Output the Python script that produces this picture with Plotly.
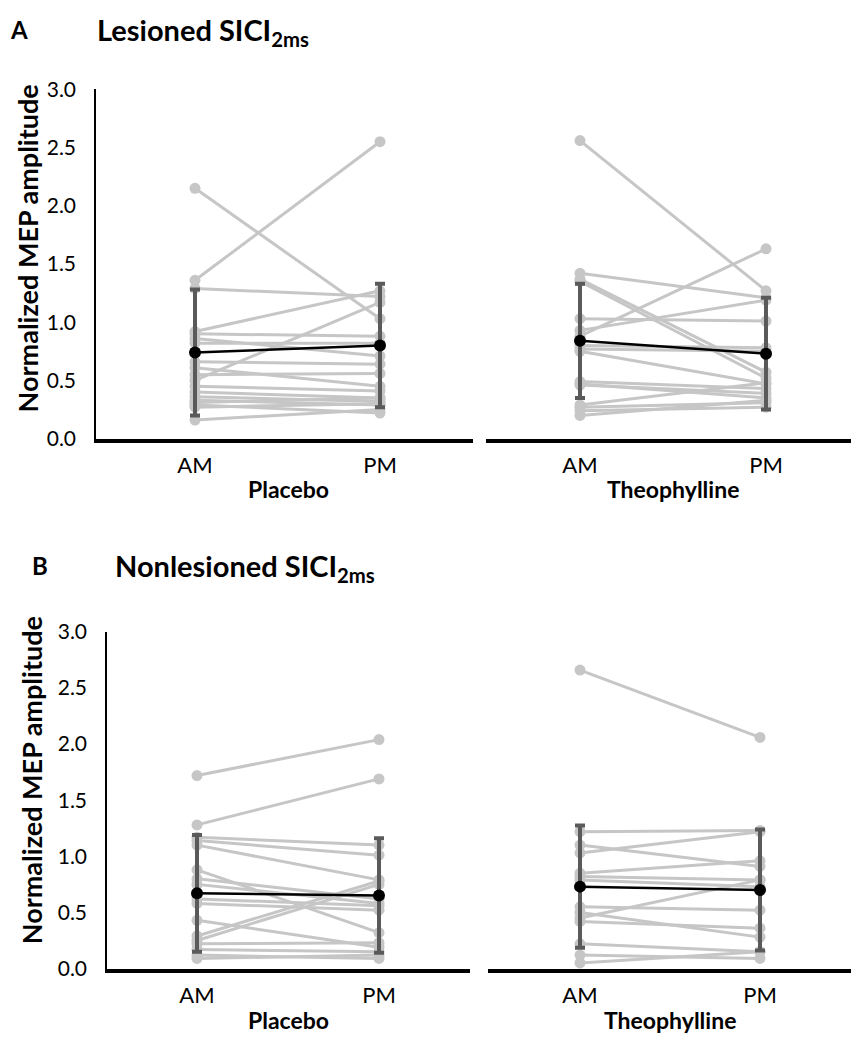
import plotly.graph_objects as go

# target picture size and the page's default 8px body margin
W, H = 859, 1050
OFF = 8
FW, FH = W - 2 * OFF, H - 2 * OFF

# ---------------- data ----------------
sessions = ["AM", "PM"]
y_ticks = [0.0, 0.5, 1.0, 1.5, 2.0, 2.5, 3.0]

# Lesioned SICI2ms - Placebo (AM, PM per subject)
les_pla_am = [2.15, 1.36, 1.29, 0.92, 0.90, 0.86, 0.82, 0.66, 0.61, 0.55, 0.50, 0.45, 0.40, 0.36, 0.33, 0.31, 0.29, 0.27, 0.16]
les_pla_pm = [1.03, 2.55, 1.22, 1.27, 0.88, 0.71, 0.82, 0.64, 0.45, 0.56, 1.17, 0.41, 0.35, 0.32, 0.29, 0.35, 0.22, 0.30, 0.25]
les_pla_mean = [0.74, 0.80]
les_pla_sd = [0.54, 0.53]

# Lesioned SICI2ms - Theophylline
les_the_am = [2.56, 1.42, 1.37, 1.35, 1.03, 0.93, 0.88, 0.80, 0.77, 0.75, 0.49, 0.47, 0.46, 0.29, 0.27, 0.24, 0.20]
les_the_pm = [1.27, 1.21, 0.57, 0.52, 1.01, 1.19, 1.63, 0.78, 0.75, 0.47, 0.43, 0.35, 0.39, 0.48, 0.31, 0.27, 0.33]
les_the_mean = [0.84, 0.73]
les_the_sd = [0.49, 0.48]

# Nonlesioned SICI2ms - Placebo
non_pla_am = [1.72, 1.28, 1.17, 1.14, 1.10, 0.88, 0.80, 0.75, 0.62, 0.58, 0.43, 0.29, 0.25, 0.22, 0.17, 0.12, 0.09]
non_pla_pm = [2.04, 1.69, 1.10, 1.01, 0.79, 0.32, 0.62, 0.58, 0.56, 0.52, 0.19, 0.78, 0.75, 0.23, 0.15, 0.09, 0.12]
non_pla_mean = [0.67, 0.65]
non_pla_sd = [0.52, 0.51]

# Nonlesioned SICI2ms - Theophylline
non_the_am = [2.66, 1.22, 1.10, 1.03, 0.85, 0.82, 0.79, 0.55, 0.50, 0.45, 0.42, 0.22, 0.12, 0.05]
non_the_pm = [2.06, 1.23, 0.91, 1.22, 0.96, 0.79, 0.73, 0.52, 0.28, 0.79, 0.36, 0.15, 0.09, 0.15]
non_the_mean = [0.73, 0.70]
non_the_sd = [0.545, 0.54]

# ---------------- styling ----------------
FONT = "Lato"
GREY = "#c6c6c6"
ERR = "#5a5a5a"

def px(x):
    return (x - OFF) / FW

def py(y):
    return 1 - (y - OFF) / FH

fig = go.Figure()

panels = [
    (les_pla_am, les_pla_pm, les_pla_mean, les_pla_sd, ""),
    (les_the_am, les_the_pm, les_the_mean, les_the_sd, "2"),
    (non_pla_am, non_pla_pm, non_pla_mean, non_pla_sd, "3"),
    (non_the_am, non_the_pm, non_the_mean, non_the_sd, "4"),
]

for am, pm, mean, sd, s in panels:
    xa, ya = "x" + s, "y" + s
    for a, p in zip(am, pm):
        fig.add_trace(go.Scatter(
            x=sessions, y=[a, p], xaxis=xa, yaxis=ya, mode="lines+markers",
            line=dict(color=GREY, width=3), marker=dict(color=GREY, size=11),
            showlegend=False, hoverinfo="skip", cliponaxis=False))
    fig.add_trace(go.Scatter(
        x=sessions, y=mean, xaxis=xa, yaxis=ya, mode="markers",
        marker=dict(color="rgba(0,0,0,0)", size=1),
        error_y=dict(type="data", array=sd, color=ERR, thickness=4, width=5),
        showlegend=False, hoverinfo="skip", cliponaxis=False))
    fig.add_trace(go.Scatter(
        x=sessions, y=mean, xaxis=xa, yaxis=ya, mode="lines+markers",
        line=dict(color="black", width=2.5), marker=dict(color="black", size=12),
        showlegend=False, cliponaxis=False))

# axis geometry (pixel positions in the 859x1050 picture)
geo = {
    "": dict(x0=96, x1=473, am=195, pmx=380, y0=435, y3=77, left=True),
    "2": dict(x0=486, x1=851, am=580, pmx=766, y0=435, y3=77, left=False),
    "3": dict(x0=107, x1=470, am=197, pmx=379, y0=978, y3=633, left=True),
    "4": dict(x0=488, x1=851, am=580, pmx=760, y0=978, y3=633, left=False),
}

layout = dict(
    width=FW, height=FH, autosize=False,
    margin=dict(l=0, r=0, t=0, b=0),
    paper_bgcolor="white", plot_bgcolor="white",
    font=dict(family=FONT, color="black"),
    showlegend=False,
)

for s, g in geo.items():
    scale = g["pmx"] - g["am"]
    r0 = -(g["am"] - g["x0"]) / scale
    r1 = 1 + (g["x1"] - g["pmx"]) / scale
    layout["xaxis" + s] = dict(
        domain=[px(g["x0"]), min(1.0, px(g["x1"]))], anchor="y" + s,
        type="category", range=[r0, r1], showgrid=False, zeroline=False,
        showline=True, linecolor="black", linewidth=4, ticks="",
        tickfont=dict(size=22, family=FONT), ticklabelstandoff=4,
        fixedrange=True)
    layout["yaxis" + s] = dict(
        domain=[py(g["y0"]), py(g["y3"])], anchor="x" + s,
        range=[0, 3], tickvals=y_ticks, ticktext=[f"{v:.1f}" for v in y_ticks],
        showgrid=False, zeroline=False, ticks="",
        showline=g["left"], linecolor="black", linewidth=1.5,
        showticklabels=g["left"], tickfont=dict(size=21, family=FONT),
        ticklabelstandoff=14, fixedrange=True)

fig.update_layout(**layout)

def ann(text, x, y, size, bold=True, angle=0, xanchor="center"):
    fig.add_annotation(
        text=f"<b>{text}</b>" if bold else text, x=px(x), y=py(y),
        xref="paper", yref="paper", showarrow=False, textangle=angle,
        xanchor=xanchor, yanchor="middle",
        font=dict(size=size, family=FONT, color="black"))

ann("A", 8, 16, 24, xanchor="left")
ann("Lesioned SICI<sub>2ms</sub>", 95, 18, 29, xanchor="left")
ann("B", 30, 565, 24, xanchor="left")
ann("Nonlesioned SICI<sub>2ms</sub>", 113, 567, 29, xanchor="left")
ann("Normalized MEP amplitude", 27, 240, 27, angle=-90)
ann("Normalized MEP amplitude", 31, 785, 27, angle=-90)
ann("Placebo", 288, 487, 23)
ann("Theophylline", 673, 487, 23)
ann("Placebo", 288, 1031, 23)
ann("Theophylline", 670, 1031, 23)

fig.write_html("out.html")
